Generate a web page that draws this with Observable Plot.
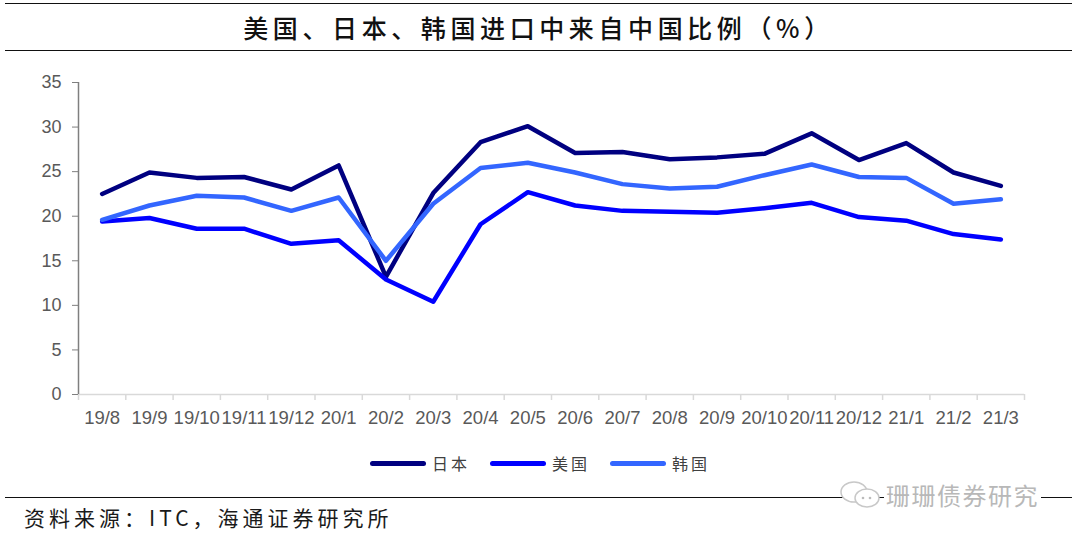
<!DOCTYPE html>
<html><head><meta charset="utf-8">
<script src="https://cdn.jsdelivr.net/npm/d3@7"></script>
<script src="https://cdn.jsdelivr.net/npm/@observablehq/plot@0.6"></script>
<style>
body{margin:0;background:#fff;}
#wrap{position:relative;width:1080px;height:542px;overflow:hidden;background:#fff;font-family:"Noto Sans CJK SC",sans-serif;}
#title{position:absolute;left:5px;width:1067px;top:3px;height:46px;border-top:1.5px solid #111;border-bottom:1.5px solid #111;
  text-align:center;line-height:46px;font-size:25px;font-weight:500;letter-spacing:4.6px;color:#111;}
#chart{position:absolute;left:0;top:60px;}
#legend{position:absolute;left:0;width:1080px;top:451px;height:24px;display:flex;justify-content:center;align-items:center;}
.item{display:flex;align-items:center;margin:0 10px;}
.sw{width:56px;height:5px;border-radius:3px;margin-right:6px;}
.lab{font-size:16px;letter-spacing:3px;color:#404040;}
#fline{position:absolute;left:5px;width:1067px;top:497px;border-top:1.5px solid #111;}
#footer{position:absolute;left:24px;top:503px;font-size:21px;letter-spacing:4px;color:#1a1a1a;line-height:28px;}
#wm{position:absolute;left:838px;top:477px;display:flex;align-items:center;color:#b8b8b8;font-size:24px;letter-spacing:1.5px;background:transparent;}
#wm span{background:#fff;padding:0 2px;}
</style></head><body>
<div id="wrap">
  <div id="title">美国、日本、韩国进口中来自中国比例（%）</div>
  <div id="chart"></div>
  <div id="legend"></div>
  <div id="fline"></div>
  <div id="wm"><svg width="46" height="30" viewBox="0 0 46 30"><ellipse cx="16" cy="12" rx="13" ry="10" fill="#fff" stroke="#c8c8c8" stroke-width="1.5"/><ellipse cx="29" cy="18" rx="12" ry="9" fill="#fff" stroke="#c8c8c8" stroke-width="1.5"/><circle cx="25" cy="18" r="1.3" fill="#bbb"/><circle cx="32" cy="18" r="1.3" fill="#bbb"/></svg><span>珊珊债券研究</span></div>
  <div id="footer">资料来源：ITC，海通证券研究所</div>
</div>
<script>
const months = ["19/8","19/9","19/10","19/11","19/12","20/1","20/2","20/3","20/4","20/5","20/6","20/7","20/8","20/9","20/10","20/11","20/12","21/1","21/2","21/3"];
const japan = [22.5,24.9,24.3,24.4,23.0,25.7,13.2,22.6,28.3,30.1,27.1,27.2,26.4,26.6,27.0,29.3,26.3,28.2,24.9,23.4];
const usa   = [19.4,19.8,18.6,18.6,16.9,17.3,12.9,10.4,19.1,22.7,21.2,20.6,20.5,20.4,20.9,21.5,19.9,19.5,18.0,17.4];
const korea = [19.6,21.2,22.3,22.1,20.6,22.1,15.0,21.4,25.4,26.0,24.9,23.6,23.1,23.3,24.6,25.8,24.4,24.3,21.4,21.9];
const seriesNames = ["日本","美国","韩国"];
const seriesColors = ["#000080","#0000ff","#3366ff"];
const yTicks = [0,5,10,15,20,25,30,35];

const values = [japan, usa, korea];
const data = [];
seriesNames.forEach((s,k)=>values[k].forEach((v,i)=>data.push({i, v, s})));
const boundaries = d3.range(months.length+1).map(i=>i-0.5);

const chart = Plot.plot({
  width:1080, height:380,
  marginTop:22, marginBottom:46, marginLeft:78, marginRight:56,
  style:{fontFamily:"Liberation Sans, Arial, sans-serif", background:"transparent"},
  x:{type:"linear", domain:[-0.5, months.length-0.5]},
  y:{domain:[0,35]},
  color:{domain:seriesNames, range:seriesColors},
  marks:[
    Plot.ruleY([0], {stroke:"#d9d9d9", strokeWidth:1.5}),
    Plot.axisX(boundaries, {tickSize:6, tickFormat:()=>"", stroke:"#d9d9d9", strokeWidth:1.5, label:null}),
    Plot.axisX(d3.range(months.length), {tickSize:0, tickPadding:16, tickFormat:i=>months[i], fontSize:18.5, color:"#595959", label:null}),
    Plot.ruleX([-0.5], {y1:0, y2:35, stroke:"#7f7f7f", strokeWidth:1.5}),
    Plot.axisY(yTicks, {tickSize:6, tickPadding:11, fontSize:18, color:"#595959", stroke:"#7f7f7f", label:null}),
    Plot.line(data, {x:"i", y:"v", z:"s", stroke:"s", strokeWidth:4.5, strokeLinejoin:"round", strokeLinecap:"round"})
  ]
});
document.getElementById("chart").appendChild(chart);

const legend = document.getElementById("legend");
seriesNames.forEach((s,k)=>{
  const it = document.createElement("div"); it.className="item";
  const sw = document.createElement("div"); sw.className="sw"; sw.style.background=seriesColors[k];
  const lb = document.createElement("span"); lb.className="lab"; lb.textContent=s;
  it.appendChild(sw); it.appendChild(lb); legend.appendChild(it);
});
</script>
</body></html>
